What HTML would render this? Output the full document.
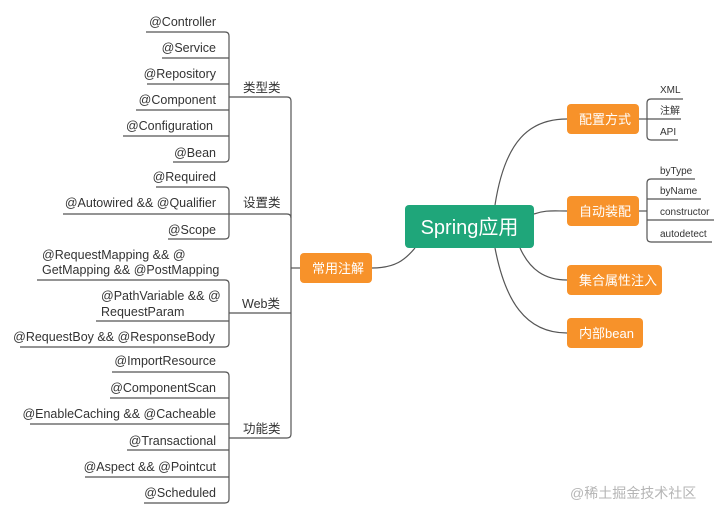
<!DOCTYPE html>
<html><head><meta charset="utf-8"><style>
body{margin:0;background:#fff;}
svg text{font-family:"Liberation Sans","Noto Sans CJK SC",sans-serif;}
</style></head><body>
<svg width="720" height="516" viewBox="0 0 720 516" xmlns="http://www.w3.org/2000/svg">
<g fill="none" stroke="#555" stroke-width="1.2">
<!-- center curves -->
<path d="M495 205 C505 140 530 119 567 119"/>
<path d="M534 214 C545 210 552 211 567 211"/>
<path d="M520 248 C530 270 545 280 567 280"/>
<path d="M495 248 C505 300 525 333 567 333"/>
<path d="M415 248 C405 260 395 268 372 268"/>
<!-- right brackets -->
<path d="M639 119 H647"/>
<path d="M683 99 H651 Q647 99 647 103 V136 Q647 140 651 140 H678"/>
<path d="M647 119 H681"/>
<path d="M639 211 H647"/>
<path d="M695 179 H651 Q647 179 647 183 V238 Q647 242 651 242 H712"/>
<path d="M647 199 H701"/>
<path d="M647 220 H714"/>
<!-- left spine -->
<path d="M229 97 H287 Q291 97 291 101 V434 Q291 438 287 438 H229"/>
<path d="M291 268 H300"/>
<path d="M63 214 H287 Q291 214 291 218"/>
<path d="M229 313 H291"/>
<!-- 类型类 bracket -->
<path d="M146 32 H225 Q229 32 229 36 V158 Q229 162 225 162 H173"/>
<path d="M162 58 H229"/><path d="M147 84 H229"/><path d="M136 110 H229"/><path d="M123 136 H229"/>
<!-- 设置类 -->
<path d="M156 187 H225 Q229 187 229 191 V235 Q229 239 225 239 H168"/>
<!-- Web -->
<path d="M37 280 H225 Q229 280 229 284 V343 Q229 347 225 347 H20"/>
<path d="M96 321 H229"/>
<!-- 功能类 -->
<path d="M112 372 H225 Q229 372 229 376 V499 Q229 503 225 503 H144"/>
<path d="M110 398 H229"/><path d="M30 424 H229"/><path d="M127 450 H229"/><path d="M85 477 H229"/>
</g>
<!-- nodes -->
<rect x="405" y="205" width="129" height="43" rx="4" fill="#1fa67a"/>
<text x="469.5" y="234" font-size="20" fill="#fff" text-anchor="middle">Spring应用</text>
<g fill="#f7922a">
<rect x="567" y="104" width="72" height="30" rx="4"/>
<rect x="567" y="196" width="72" height="30" rx="4"/>
<rect x="567" y="265" width="95" height="30" rx="4"/>
<rect x="567" y="318" width="76" height="30" rx="4"/>
<rect x="300" y="253" width="72" height="30" rx="4"/>
</g>
<g fill="#fff" font-size="13">
<text x="579" y="124">配置方式</text>
<text x="579" y="216">自动装配</text>
<text x="579" y="285">集合属性注入</text>
<text x="579" y="338">内部bean</text>
<text x="312" y="273">常用注解</text>
</g>
<g fill="#333" font-size="10">
<text x="660" y="93">XML</text>
<text x="660" y="114">注解</text>
<text x="660" y="135">API</text>
<text x="660" y="174">byType</text>
<text x="660" y="194">byName</text>
<text x="660" y="215">constructor</text>
<text x="660" y="237">autodetect</text>
</g>
<g fill="#333" font-size="12.5">
<text x="243" y="92">类型类</text>
<text x="243" y="207">设置类</text>
<text x="242" y="308">Web类</text>
<text x="243" y="433">功能类</text>
</g>
<g fill="#333" font-size="12.5" text-anchor="end">
<text x="216" y="26">@Controller</text>
<text x="216" y="52">@Service</text>
<text x="216" y="78">@Repository</text>
<text x="216" y="104">@Component</text>
<text x="213" y="130">@Configuration</text>
<text x="216" y="157">@Bean</text>
<text x="216" y="181">@Required</text>
<text x="216" y="207">@Autowired &amp;&amp; @Qualifier</text>
<text x="216" y="234">@Scope</text>
<text x="216" y="365">@ImportResource</text>
<text x="216" y="392">@ComponentScan</text>
<text x="216" y="418">@EnableCaching &amp;&amp; @Cacheable</text>
<text x="216" y="445">@Transactional</text>
<text x="216" y="471">@Aspect &amp;&amp; @Pointcut</text>
<text x="216" y="497">@Scheduled</text>
<text x="215" y="341">@RequestBoy &amp;&amp; @ResponseBody</text>
</g>
<g fill="#333" font-size="12.5">
<text x="42" y="259">@RequestMapping &amp;&amp; @</text>
<text x="42" y="274">GetMapping &amp;&amp; @PostMapping</text>
<text x="101" y="300">@PathVariable &amp;&amp; @</text>
<text x="101" y="316">RequestParam</text>
</g>
<text x="570" y="498" font-size="14" fill="#b5b5b5">@稀土掘金技术社区</text>
</svg>
</body></html>
